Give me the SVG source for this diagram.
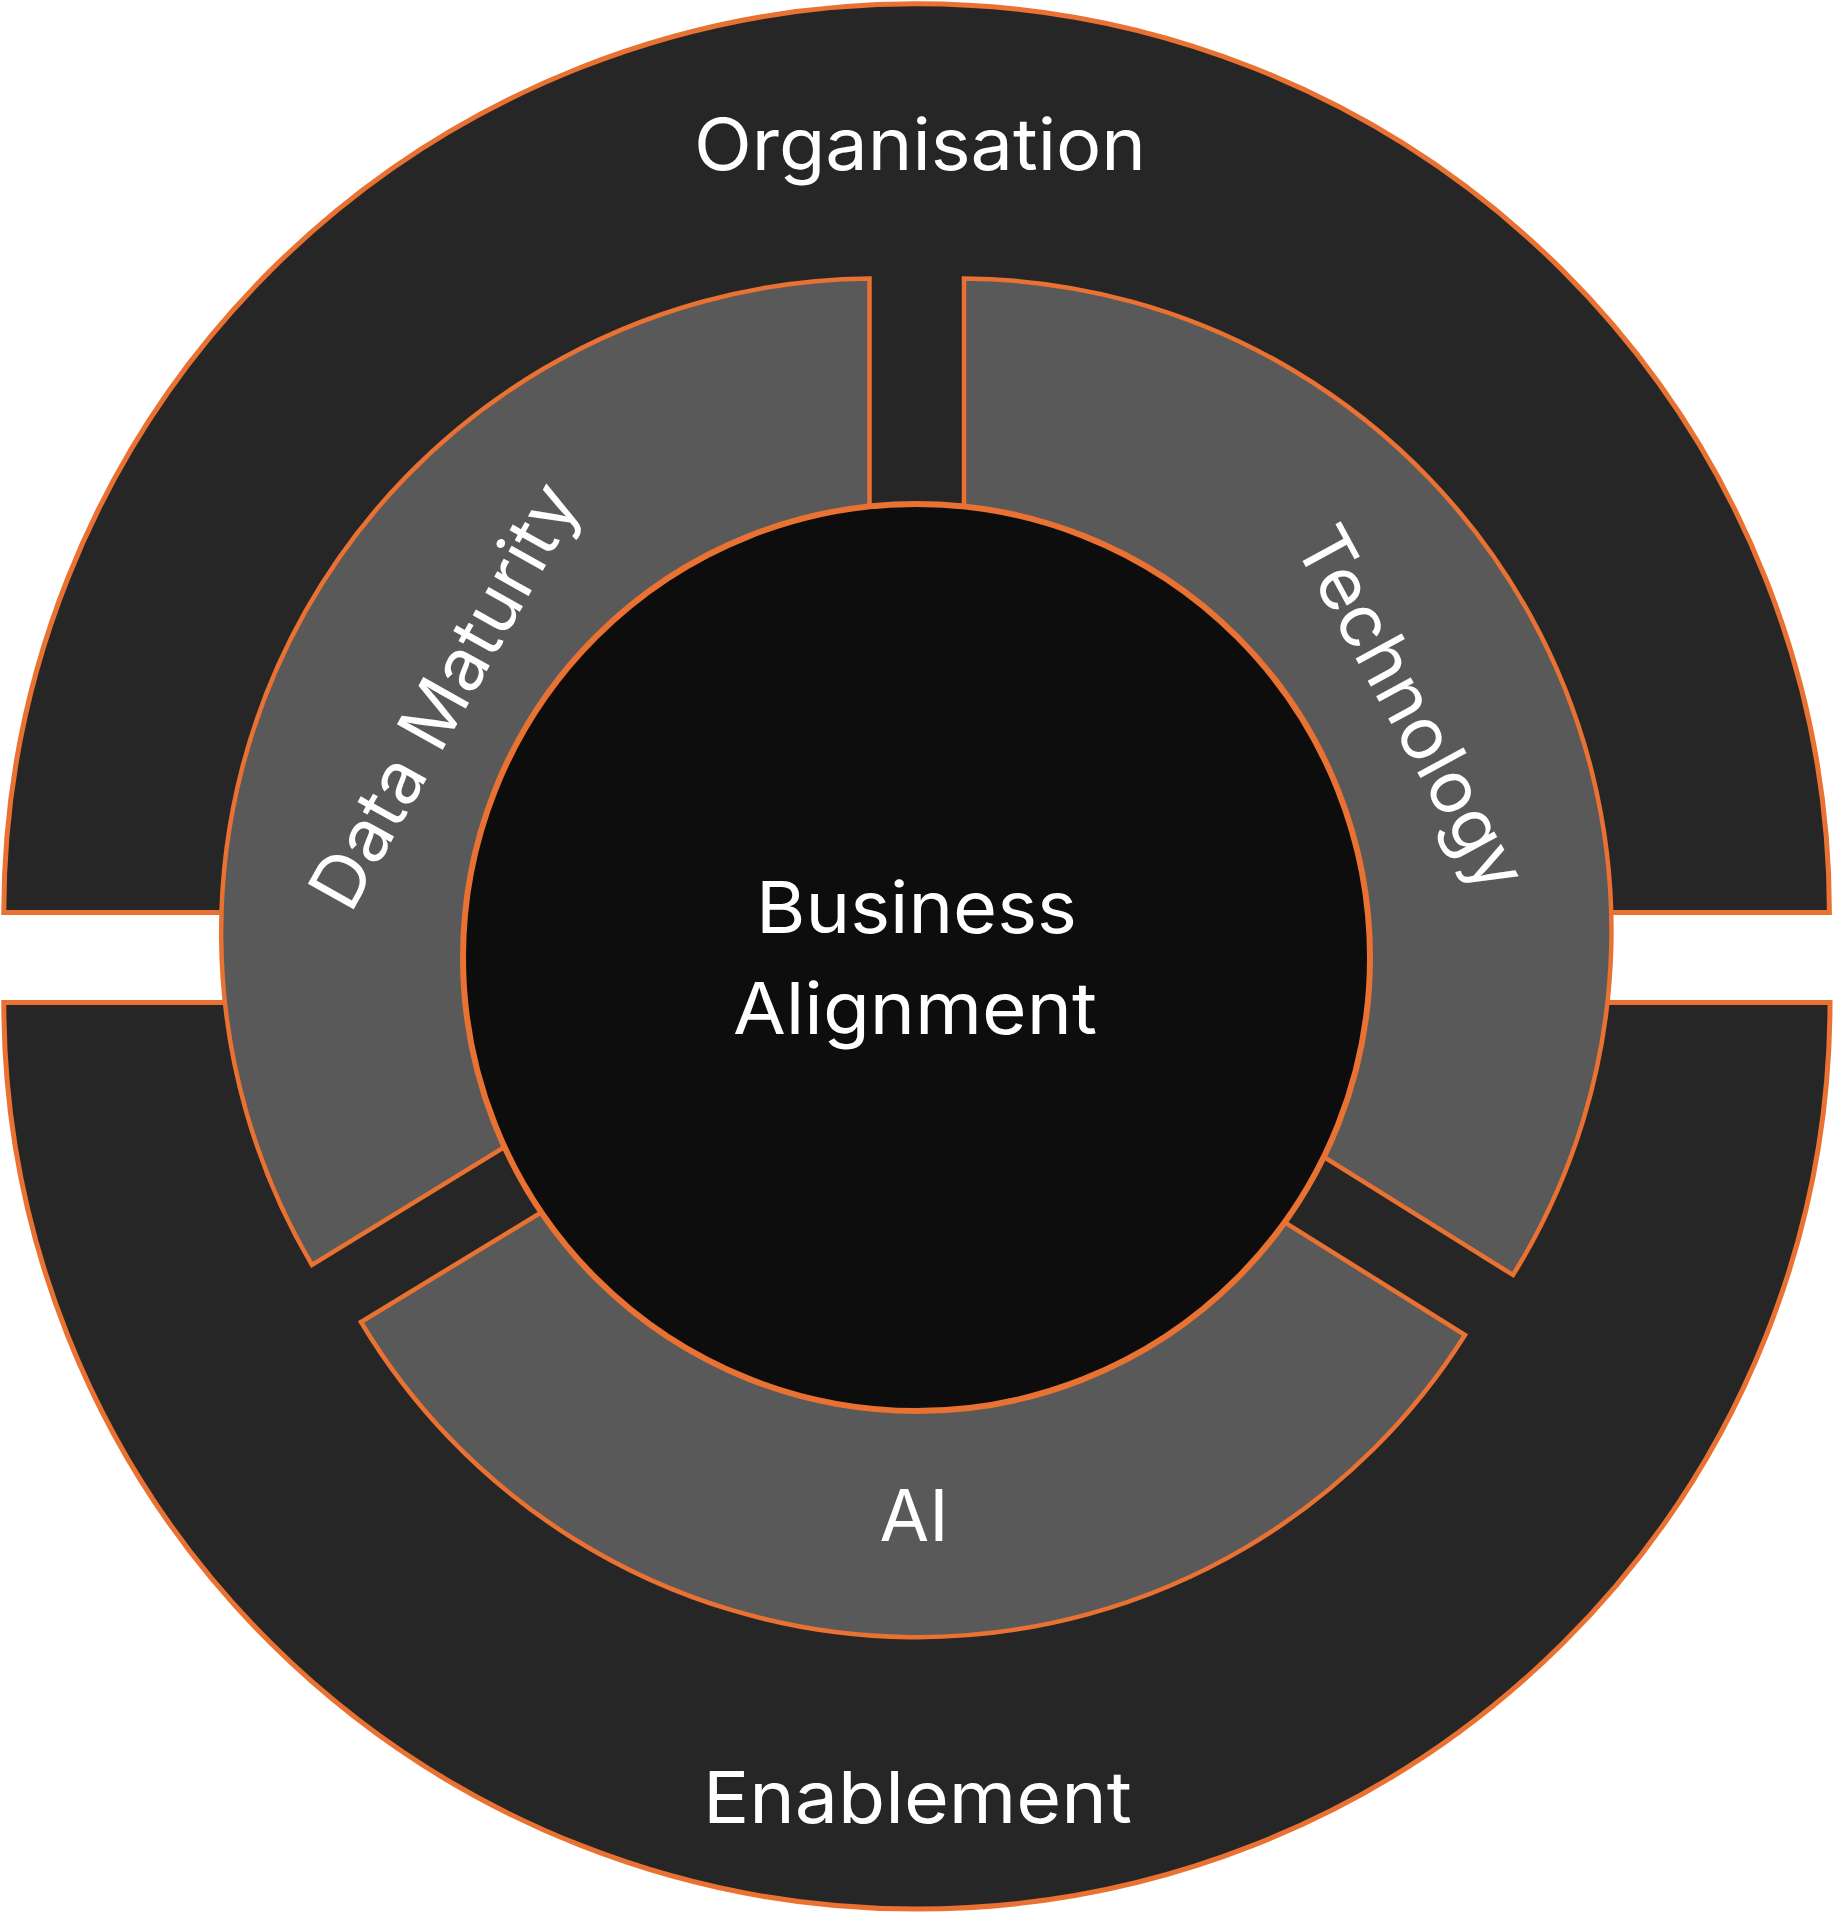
<svg xmlns="http://www.w3.org/2000/svg" width="1833" height="1915" viewBox="0 0 1833 1915">
  <style>
    .outer { fill: #262626; stroke: #E97132; stroke-width: 5; }
    .seg { fill: #595959; stroke: #E97132; stroke-width: 4.5; stroke-linejoin: miter; }
    .core { fill: #0D0D0D; stroke: #E97132; stroke-width: 6; }
    .lbl { fill: #FFFFFF; font-family: Inter, "Open Sans", "Liberation Sans", sans-serif; font-size: 72px; text-anchor: middle; }
  </style>
  <rect x="0" y="0" width="1833" height="1915" fill="#FFFFFF"/>
  <g id="organisation">
    <path class="outer" d="M 3.8 912.5 A 912.7 908.7 0 0 1 1829.4 912.5 Z"/>
    <text class="lbl" x="920" y="170" textLength="452" lengthAdjust="spacingAndGlyphs">Organisation</text>
  </g>
  <g id="enablement">
    <path class="outer" d="M 3.8 1002.5 A 913 906.5 0 0 0 1830 1002.5 Z"/>
    <text class="lbl" x="917.5" y="1823" textLength="429" lengthAdjust="spacingAndGlyphs">Enablement</text>
  </g>
  <g id="data-maturity">
    <path class="seg" d="M 312 1265 A 654 654 0 0 1 869.5 278.5 L 869.5 560 L 556 1115.5 Z"/>
    <text class="lbl" transform="translate(466 708) rotate(-60.8)" x="0" y="0" textLength="474" lengthAdjust="spacingAndGlyphs">Data Maturity</text>
  </g>
  <g id="technology">
    <path class="seg" d="M 964 278.5 A 652 652 0 0 1 1513 1275 L 1271 1124 L 964 560 Z"/>
    <text class="lbl" transform="translate(1389 720) rotate(61.5)" x="0" y="0" textLength="402" lengthAdjust="spacingAndGlyphs">Technology</text>
  </g>
  <g id="ai">
    <path class="seg" d="M 1465 1335 A 648 648 0 0 1 361 1322 L 601 1176 L 1225 1185 Z"/>
    <text class="lbl" x="914" y="1541">AI</text>
  </g>
  <g id="business-alignment">
    <circle class="core" cx="916.5" cy="957.5" r="453.5"/>
    <text class="lbl" x="916.5" y="933" textLength="321" lengthAdjust="spacingAndGlyphs">Business</text>
    <text class="lbl" x="915" y="1034" textLength="364" lengthAdjust="spacingAndGlyphs">Alignment</text>
  </g>
  <g id="connectors"/>
</svg>
